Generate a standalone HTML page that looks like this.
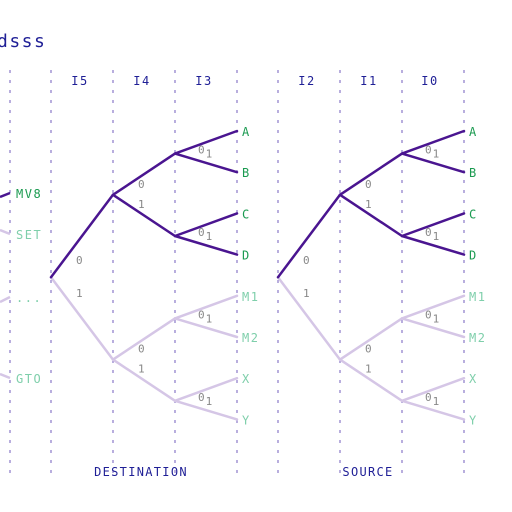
<!DOCTYPE html>
<html><head><meta charset="utf-8"><style>
body{margin:0;background:#fff;}
svg{display:block;font-family:"DejaVu Sans Mono","Liberation Mono",monospace;}
</style></head><body>
<svg id="c" width="512" height="512">
<text x="-3" y="47" font-size="18" fill="#1f1f96" letter-spacing="1.5">dsss</text>
</svg>
<script>
const colXs=[10,51,113,175,237,278,340,402,464];
const headers=[["I5",80],["I4",142],["I3",204],["I2",307],["I1",369],["I0",430]];
const leaves=["A","B","C","D","M1","M2","X","Y"];
const treeOffsets=[0,227];
const sections=[["DESTINATION",141],["SOURCE",368]];
const leftLabels=[["MV8",193,197,true],["SET",234,230,false],["...",297,302,false],["GTO",378,374,false]];
const DARK="#4a1590",LIGHT="#d5c6e6",GD="#1a9a50",GL="#7fcfab";
const svg=document.getElementById('c');
const NS="http://www.w3.org/2000/svg";
function mk(t,a,name){const e=document.createElementNS(NS,t);for(const k in a)e.setAttribute(k,a[k]);


svg.appendChild(e);return e;}
colXs.forEach((x,i)=>{mk('line',{x1:x,y1:70,x2:x,y2:478,stroke:"#8a78c8","stroke-width":1.2,"stroke-dasharray":"3,7"},'grid-line-'+i);});
headers.forEach(h=>{const t=mk('text',{x:h[1],y:85,"font-size":12,fill:"#1f1f96","text-anchor":"middle","letter-spacing":1.5},'header-'+h[0]);t.textContent=h[0];});
sections.forEach(s=>{const t=mk('text',{x:s[1],y:476,"font-size":12,fill:"#1f1f96","text-anchor":"middle","letter-spacing":1.3},'section-'+s[0].toLowerCase());t.textContent=s[0];});
leftLabels.forEach(l=>{mk('line',{x1:0,y1:l[2],x2:10,y2:l[1],stroke:l[3]?DARK:LIGHT,"stroke-width":2.5},'left-edge');
const t=mk('text',{x:16,y:l[1]+5,"font-size":12,fill:l[3]?GD:GL,"letter-spacing":1.5},'left-label');t.textContent=l[0];});
const leafY=i=>131+i*41.2;
function label(x,y,s,sub){const t=mk('text',{x:x,y:y,"font-size":11,fill:"#888"},'edge-label');t.textContent=s;
if(sub){const u=mk('tspan',{dy:4,dx:1,"font-size":11},'edge-label-sub');svg.removeChild(u);u.textContent=sub;t.appendChild(u);}}
treeOffsets.forEach((o,ti)=>{
 const x0=51+o,x1=113+o,x2=175+o,x3=237+o;
 const n2=[0,1,2,3].map(i=>(leafY(2*i)+leafY(2*i+1))/2+2);
 const n1=[0,1].map(i=>(n2[2*i]+n2[2*i+1])/2);
 const r=(n1[0]+n1[1])/2;
 const E=(a,b,c,d,dark)=>mk('line',{x1:a,y1:b,x2:c,y2:d,stroke:dark?DARK:LIGHT,"stroke-width":2.5,"stroke-linecap":"round"},'edge');
 E(x0,r,x1,n1[1],false);
 [2,3].forEach(i=>E(x1,n1[1],x2,n2[i],false));
 [4,5,6,7].forEach(i=>E(x2,n2[i>>1],x3,leafY(i),false));
 E(x0,r,x1,n1[0],true);
 [0,1].forEach(i=>E(x1,n1[0],x2,n2[i],true));
 [0,1,2,3].forEach(i=>E(x2,n2[i>>1],x3,leafY(i),true));
 label(x0+25,r-13,"0");label(x0+25,r+20,"1");
 n1.forEach(y=>{label(x1+25,y-7,"0");label(x1+25,y+13,"1");});
 n2.forEach(y=>{label(x2+23,y,"0","1");});
 leaves.forEach((l,i)=>{const t=mk('text',{x:x3+5,y:leafY(i)+5,"font-size":12,fill:i<4?GD:GL,"letter-spacing":1.5},'leaf-'+l.toLowerCase());t.textContent=l;});
});
</script>
</body></html>
